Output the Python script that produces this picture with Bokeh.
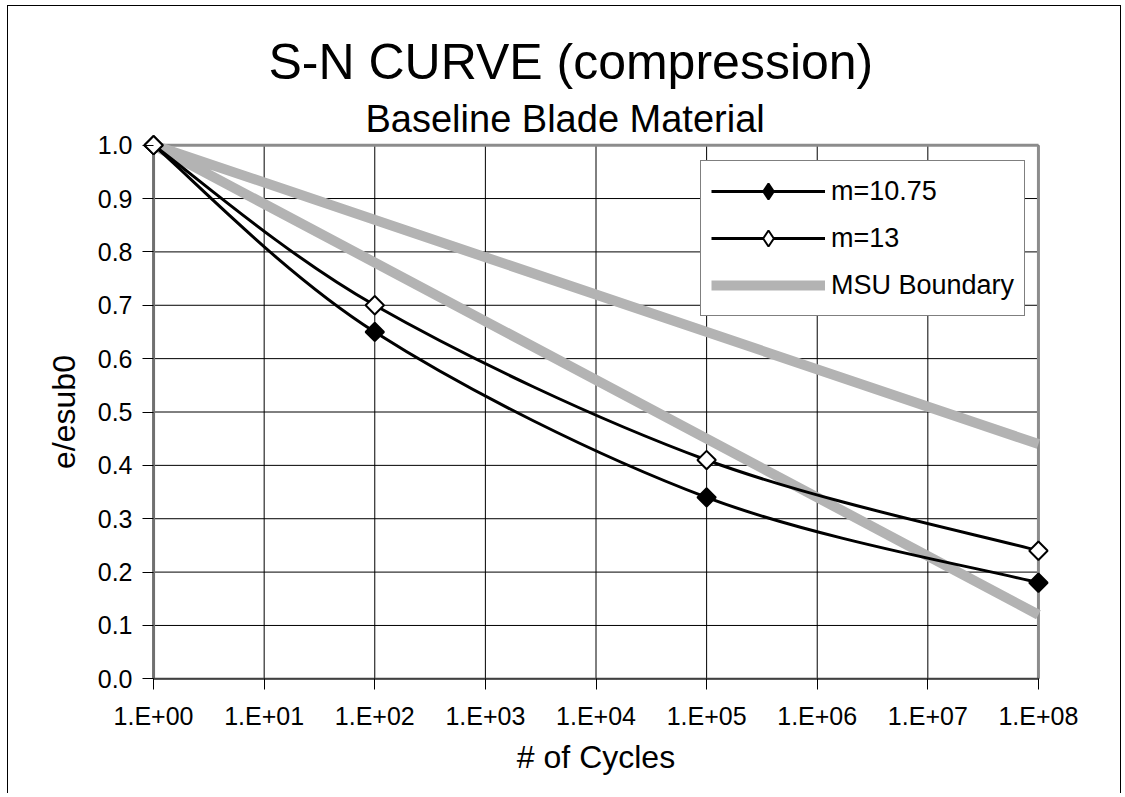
import numpy as np
from bokeh.plotting import figure
from bokeh.models import Range1d, FixedTicker, Legend, LegendItem, ColumnDataSource, Title
from bokeh.embed import file_html
from bokeh.resources import INLINE

# ---------------- data ----------------
cycles = [1e0, 1e2, 1e5, 1e8]
ratio_m1075 = [1.00, 0.65, 0.34, 0.18]
ratio_m13 = [1.00, 0.70, 0.41, 0.24]
msu_cycles = [1e8, 1e0, 1e8]
msu_ratio = [0.44, 1.00, 0.12]

x_ticks = [1e0, 1e1, 1e2, 1e3, 1e4, 1e5, 1e6, 1e7, 1e8]
x_tick_labels = ["1.E+00", "1.E+01", "1.E+02", "1.E+03", "1.E+04",
                 "1.E+05", "1.E+06", "1.E+07", "1.E+08"]
y_ticks = [0.0, 0.1, 0.2, 0.3, 0.4, 0.5, 0.6, 0.7, 0.8, 0.9, 1.0]
y_tick_labels = ["0.0", "0.1", "0.2", "0.3", "0.4", "0.5",
                 "0.6", "0.7", "0.8", "0.9", "1.0"]

title_text = "S-N CURVE (compression)"
subtitle_text = "Baseline Blade Material"
series_labels = ["m=10.75", "m=13", "MSU Boundary"]
FONT = "Liberation Sans"


def smooth_segments(xs, ys):
    """Excel-like smoothed line: Catmull-Rom Bezier segments (in log-x space)."""
    lx = np.log10(np.asarray(xs, dtype=float))
    ly = np.asarray(ys, dtype=float)
    n = len(lx)
    seg = dict(x0=[], y0=[], x1=[], y1=[], cx0=[], cy0=[], cx1=[], cy1=[])
    for i in range(n - 1):
        a = max(i - 1, 0)
        b = min(i + 2, n - 1)
        c0x = lx[i] + (lx[i + 1] - lx[a]) / 6.0
        c0y = ly[i] + (ly[i + 1] - ly[a]) / 6.0
        c1x = lx[i + 1] - (lx[b] - lx[i]) / 6.0
        c1y = ly[i + 1] - (ly[b] - ly[i]) / 6.0
        seg["x0"].append(10 ** lx[i]); seg["y0"].append(ly[i])
        seg["x1"].append(10 ** lx[i + 1]); seg["y1"].append(ly[i + 1])
        seg["cx0"].append(10 ** c0x); seg["cy0"].append(c0y)
        seg["cx1"].append(10 ** c1x); seg["cy1"].append(c1y)
    return ColumnDataSource(seg)


# plot area limits come from the tick lists
x_lo, x_hi = x_ticks[0], x_ticks[-1]
y_lo, y_hi = y_ticks[0], y_ticks[-1]
# a little room round the plot area so that corner markers are not cut
xpad_dec = 0.1
ypad = 0.02

W, H = 1114, 788
p = figure(width=W, height=H, x_axis_type="log",
           x_range=Range1d(x_lo * 10 ** -xpad_dec, x_hi * 10 ** xpad_dec),
           y_range=Range1d(y_lo - ypad, y_hi + ypad),
           output_backend="svg", toolbar_location=None,
           min_border_left=134, min_border_right=73,
           min_border_top=128, min_border_bottom=105)
p.margin = (5, 0, 0, 7)
p.styles = {"border-top": "1px solid black", "border-left": "1px solid black",
            "border-right": "1px solid black"}
p.background_fill_color = "white"
p.border_fill_color = "white"
p.outline_line_color = None
p.xgrid.visible = False
p.ygrid.visible = False

# gridlines (from the tick lists)
p.segment(x0=x_ticks, y0=[y_lo] * len(x_ticks), x1=x_ticks, y1=[y_hi] * len(x_ticks),
          line_color="black", line_width=1)
p.segment(x0=[x_lo] * len(y_ticks), y0=y_ticks, x1=[x_hi] * len(y_ticks), y1=y_ticks,
          line_color="black", line_width=1)
# plot-area border: top / right gray, left / bottom axis lines
p.segment(x0=[x_lo, x_hi], y0=[y_hi, y_lo], x1=[x_hi, x_hi], y1=[y_hi, y_hi],
          line_color="#8c8c8c", line_width=3)
p.segment(x0=[x_lo], y0=[y_lo], x1=[x_lo], y1=[y_hi], line_color="#707070", line_width=3)
p.segment(x0=[x_lo], y0=[y_lo], x1=[x_hi], y1=[y_lo], line_color="#404040", line_width=2)

# axes (ticks reach in from the frame edge up to the plot-area border)
p.xaxis.ticker = FixedTicker(ticks=x_ticks)
p.xaxis.major_label_overrides = dict(zip(x_ticks, x_tick_labels))
p.yaxis.ticker = FixedTicker(ticks=y_ticks)
p.yaxis.major_label_overrides = dict(zip(y_ticks, y_tick_labels))
for ax in (p.xaxis[0], p.yaxis[0]):
    ax.axis_line_color = None
    ax.major_tick_out = 0
    ax.major_tick_in = 11
    ax.minor_tick_out = 0
    ax.minor_tick_in = 0
    ax.major_tick_line_color = "black"
    ax.major_tick_line_width = 1
    ax.major_label_text_font = FONT
    ax.major_label_text_font_size = "25px"
    ax.major_label_text_color = "black"
    ax.axis_label_text_font = FONT
    ax.axis_label_text_font_size = "32px"
    ax.axis_label_text_font_style = "normal"
    ax.axis_label_text_color = "black"
p.xaxis.axis_label = "# of Cycles"
p.yaxis.axis_label = "e/esub0"
p.xaxis.major_label_standoff = 12
p.yaxis.major_label_standoff = 10
p.xaxis.axis_label_standoff = 6
p.yaxis.axis_label_standoff = 13

# series
msu = p.line(msu_cycles, msu_ratio, line_color="#b3b3b3", line_width=10, line_join="round")

src1 = smooth_segments(cycles, ratio_m1075)
src2 = smooth_segments(cycles, ratio_m13)
b1 = p.bezier(x0="x0", y0="y0", x1="x1", y1="y1", cx0="cx0", cy0="cy0",
              cx1="cx1", cy1="cy1", source=src1, line_color="black", line_width=3)
b2 = p.bezier(x0="x0", y0="y0", x1="x1", y1="y1", cx0="cx0", cy0="cy0",
              cx1="cx1", cy1="cy1", source=src2, line_color="black", line_width=3)
s1 = p.scatter(cycles, ratio_m1075, marker="square", angle=np.pi / 4, size=13,
               fill_color="black", line_color="black", line_width=2)
s2 = p.scatter(cycles, ratio_m13, marker="square", angle=np.pi / 4, size=13,
               fill_color="white", line_color="black", line_width=2)
# legend swatches (diamond markers, legend only; NaN point is never drawn)
nan = float("nan")
k1 = p.scatter(x=[nan], y=[nan], marker="diamond", fill_color="black",
               line_color="black", line_width=2)
k2 = p.scatter(x=[nan], y=[nan], marker="diamond", fill_color="white",
               line_color="black", line_width=2)

legend = Legend(items=[LegendItem(label=series_labels[0], renderers=[b1, k1]),
                       LegendItem(label=series_labels[1], renderers=[b2, k2]),
                       LegendItem(label=series_labels[2], renderers=[msu])],
                location=(558, 373), margin=0, padding=10, spacing=7,
                glyph_width=114, glyph_height=40, label_height=40,
                label_standoff=6, label_text_font=FONT,
                label_text_font_size="27px", label_text_color="black",
                border_line_color="black", border_line_width=1,
                background_fill_color="white", background_fill_alpha=1.0)
p.add_layout(legend)

# titles: subtitle first (nearest the plot), then the main title
p.add_layout(Title(text=subtitle_text, align="left", offset=223, standoff=-10,
                   text_font=FONT, text_font_size="38px", text_font_style="normal",
                   text_color="black"), "above")
p.add_layout(Title(text=title_text, align="left", offset=126, standoff=22,
                   text_font=FONT, text_font_size="50px", text_font_style="normal",
                   text_color="black"), "above")

open("out.html", "w").write(file_html(p, INLINE))
